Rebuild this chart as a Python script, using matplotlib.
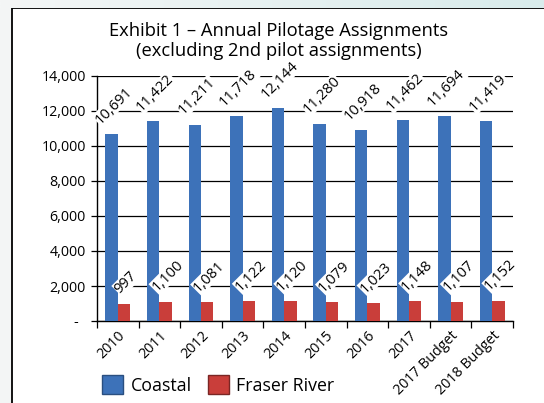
import matplotlib.pyplot as plt
import numpy as np
from matplotlib.patches import Rectangle, Patch
from matplotlib.colors import LinearSegmentedColormap

plt.rcParams['font.family'] = ['Open Sans', 'DejaVu Sans']

years = ['2010', '2011', '2012', '2013', '2014', '2015', '2016', '2017',
         '2017 Budget', '2018 Budget']
coastal = [10691, 11422, 11211, 11718, 12144, 11280, 10918, 11462, 11694, 11419]
fraser = [997, 1100, 1081, 1122, 1120, 1079, 1023, 1148, 1107, 1152]

blue = '#3d72b9'
red = '#c93e3a'

fig = plt.figure(figsize=(5.44, 4.03), dpi=100)
fig.patch.set_facecolor('#f3f5f5')

# top strip gradient outside the chart frame
strip = fig.add_axes([0, 1 - 8 / 403, 1, 8 / 403])
grad = np.linspace(0, 1, 256).reshape(1, -1)
strip.imshow(grad, aspect='auto', cmap=LinearSegmentedColormap.from_list('g', ['#f4f6f6', '#d9ecec']))
strip.axis('off')

# chart frame
frame = Rectangle((12 / 544, -0.1), 1.2, 1 - 8 / 403 + 0.1, transform=fig.transFigure,
                  fc='white', ec='black', lw=1.3, zorder=-5)
fig.patches.append(frame)

ax = fig.add_axes([97 / 544, 1 - 321 / 403, 416 / 544, 245 / 403])
ax.set_facecolor('none')

x = np.arange(len(years))
w = 0.3
b1 = ax.bar(x - w / 2, coastal, w, color=blue, zorder=3)
b2 = ax.bar(x + w / 2, fraser, w, color=red, zorder=3)

ax.set_xlim(-0.5, len(years) - 0.5)
ax.set_ylim(0, 14000)
ax.set_yticks(range(0, 14001, 2000))
ax.set_yticklabels(['-  '] + [f'{v:,}' for v in range(2000, 14001, 2000)], fontsize=10.3)
ax.yaxis.grid(True, color='black', lw=0.9, zorder=0)
ax.set_axisbelow(True)
ax.tick_params(axis='y', length=4, width=0.9, pad=4)

ax.set_xticks(x)
ax.set_xticklabels(years, rotation=45, ha='right', rotation_mode='anchor', fontsize=10.3)
ax.tick_params(axis='x', which='major', length=0, pad=5)
ax.set_xticks(np.arange(-0.5, len(years), 1), minor=True)
ax.tick_params(axis='x', which='minor', length=5, width=0.9)

for s in ['top', 'right']:
    ax.spines[s].set_visible(False)
for s in ['left', 'bottom']:
    ax.spines[s].set_linewidth(1.0)

for bars, vals in [(b1, coastal), (b2, fraser)]:
    for bar, v in zip(bars, vals):
        ax.annotate(f'{v:,}', (bar.get_x() + bar.get_width() / 2 + 0.05, v),
                    xytext=(0, 5), textcoords='offset points', rotation=45,
                    ha='center', va='bottom', fontsize=10.6, zorder=5,
                    bbox=dict(fc='white', ec='none', pad=0.3))

fig.text(279 / 544, 1 - 41 / 403, 'Exhibit 1 – Annual Pilotage Assignments\n(excluding 2nd pilot assignments)',
         ha='center', va='center', fontsize=13.2, linespacing=1.08)

handles = [Patch(fc=blue, ec='#2a4f80'), Patch(fc=red, ec='#7a2624')]
fig.legend(handles, ['Coastal', 'Fraser River'], loc='center left',
           bbox_to_anchor=(102 / 544, 1 - 385 / 403), ncol=2, frameon=False,
           fontsize=12.8, handlelength=1.2, handleheight=1.2, handletextpad=0.4,
           columnspacing=0.9, borderpad=0, borderaxespad=0)

fig.savefig('out.png', dpi=100, facecolor=fig.get_facecolor())
